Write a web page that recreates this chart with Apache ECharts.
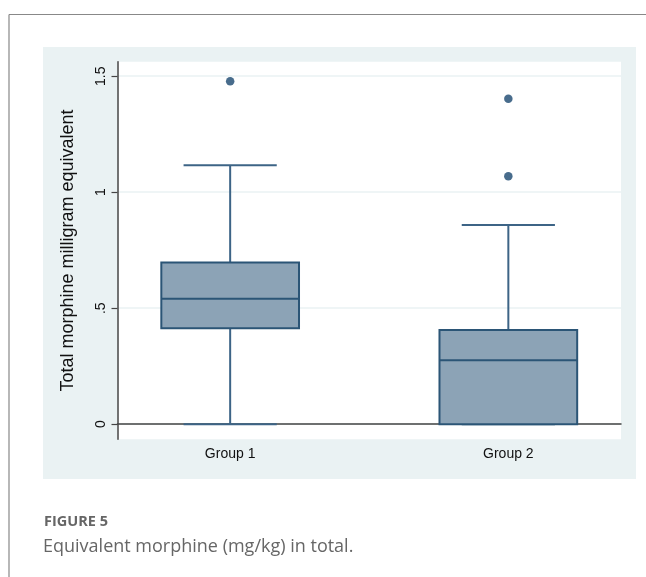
<!DOCTYPE html>
<html>
<head>
<meta charset="utf-8">
<script src="https://cdn.jsdelivr.net/npm/echarts@6/dist/echarts.min.js"></script>
<style>
html,body{margin:0;padding:0;background:#fff;}
#c{width:646px;height:577px;}
</style>
</head>
<body>
<div id="c"></div>
<script>
// ---- data ----
const categories = ['Group 1', 'Group 2'];
const whiskerLow = [0, 0];
const q1 = [0.414, 0];
const median = [0.541, 0.276];
const q3 = [0.697, 0.406];
const whiskerHigh = [1.116, 0.859];
const outliers = [[1.478], [1.403, 1.069]];
const yTickValues = [0, 0.5, 1, 1.5];
const yTickLabels = ['0', '.5', '1', '1.5'];
const yTitle = 'Total morphine milligram equivalent';
const figLabel = 'FIGURE 5';
const figCaption = 'Equivalent morphine (mg/kg) in total.';

const boxData = categories.map((c, i) => [i + 1, whiskerLow[i], q1[i], median[i], q3[i], whiskerHigh[i]]);
const outlierData = [];
outliers.forEach((arr, i) => arr.forEach(v => outlierData.push([i + 1, v])));

const lineCol = '#2b5576';
const whiskCol = '#3d6486';

const chart = echarts.init(document.getElementById('c'), null, {renderer: 'canvas'});
chart.setOption({
  animation: false,
  backgroundColor: '#ffffff',
  graphic: [
    {type: 'line', z: -10, shape: {x1: 9, y1: 14.5, x2: 646, y2: 14.5}, style: {stroke: '#888', lineWidth: 1.2}},
    {type: 'line', z: -10, shape: {x1: 9, y1: 14.5, x2: 9, y2: 577}, style: {stroke: '#888', lineWidth: 1.2}},
    {type: 'rect', z: -20, shape: {x: 43, y: 47, width: 593, height: 432}, style: {fill: '#eaf2f3'}},
    {type: 'text', left: 44, top: 514, style: {text: figLabel, font: 'bold 14.5px "Open Sans", sans-serif', fill: '#666'}},
    {type: 'text', left: 43, top: 538, style: {text: figCaption, font: '18px "Open Sans", sans-serif', fill: '#666'}}
  ],
  grid: {
    left: 117.5, right: 25, top: 61.7, bottom: 137.7,
    show: true, backgroundColor: '#ffffff', borderWidth: 0
  },
  xAxis: {
    type: 'value', min: 0.595, max: 2.405,
    axisLine: {show: true, lineStyle: {color: '#444', width: 1.5}},
    axisTick: {show: false, customValues: [1, 2]},
    splitLine: {show: false},
    axisLabel: {
      customValues: [1, 2], margin: 8,
      formatter: v => categories[Math.round(v) - 1] || '',
      color: '#111', fontSize: 14, fontFamily: '"Liberation Sans", Arial, sans-serif'
    }
  },
  yAxis: {
    type: 'value', min: -0.065, max: 1.5625,
    name: yTitle, nameLocation: 'middle', nameGap: 40,
    nameTextStyle: {fontSize: 18, color: '#111', fontFamily: '"Liberation Sans", Arial, sans-serif'},
    axisLine: {show: true, lineStyle: {color: '#444', width: 1.5}},
    axisTick: {show: true, length: 6, customValues: yTickValues, lineStyle: {color: '#444', width: 1.2}},
    splitLine: {show: true, lineStyle: {color: '#eaf2f3', width: 1.5}},
    axisLabel: {
      customValues: yTickValues, margin: 9, rotate: 90,
      formatter: v => { const i = yTickValues.indexOf(v); return i >= 0 ? yTickLabels[i] : ''; },
      color: '#111', fontSize: 14, fontFamily: '"Liberation Sans", Arial, sans-serif'
    }
  },
  series: [
    {
      type: 'custom',
      data: boxData,
      encode: {x: 0, y: [1, 2, 3, 4, 5]},
      renderItem: function (params, api) {
        const x = api.value(0);
        const lo = api.coord([x, api.value(1)]);
        const b1 = api.coord([x, api.value(2)]);
        const md = api.coord([x, api.value(3)]);
        const b3 = api.coord([x, api.value(4)]);
        const hi = api.coord([x, api.value(5)]);
        const hw = api.size([0.495, 0])[0] / 2;
        const cw = api.size([0.335, 0])[0] / 2;
        const cx = lo[0];
        const wStyle = {stroke: whiskCol, lineWidth: 2, fill: null};
        return {
          type: 'group',
          children: [
            {type: 'line', shape: {x1: cx, y1: b3[1], x2: cx, y2: hi[1]}, style: wStyle},
            {type: 'line', shape: {x1: cx, y1: b1[1], x2: cx, y2: lo[1]}, style: wStyle},
            {type: 'line', shape: {x1: cx - cw, y1: hi[1], x2: cx + cw, y2: hi[1]}, style: wStyle},
            {type: 'line', shape: {x1: cx - cw, y1: lo[1], x2: cx + cw, y2: lo[1]}, style: wStyle},
            {type: 'rect', shape: {x: cx - hw, y: b3[1], width: 2 * hw, height: b1[1] - b3[1]},
              style: {fill: '#8ca3b6', stroke: lineCol, lineWidth: 2}},
            {type: 'line', shape: {x1: cx - hw, y1: md[1], x2: cx + hw, y2: md[1]},
              style: {stroke: lineCol, lineWidth: 2}}
          ]
        };
      }
    },
    {
      type: 'scatter',
      data: outlierData,
      symbol: 'circle',
      symbolSize: 8.5,
      itemStyle: {color: '#1a476f'}
    }
  ]
});
</script>
</body>
</html>
